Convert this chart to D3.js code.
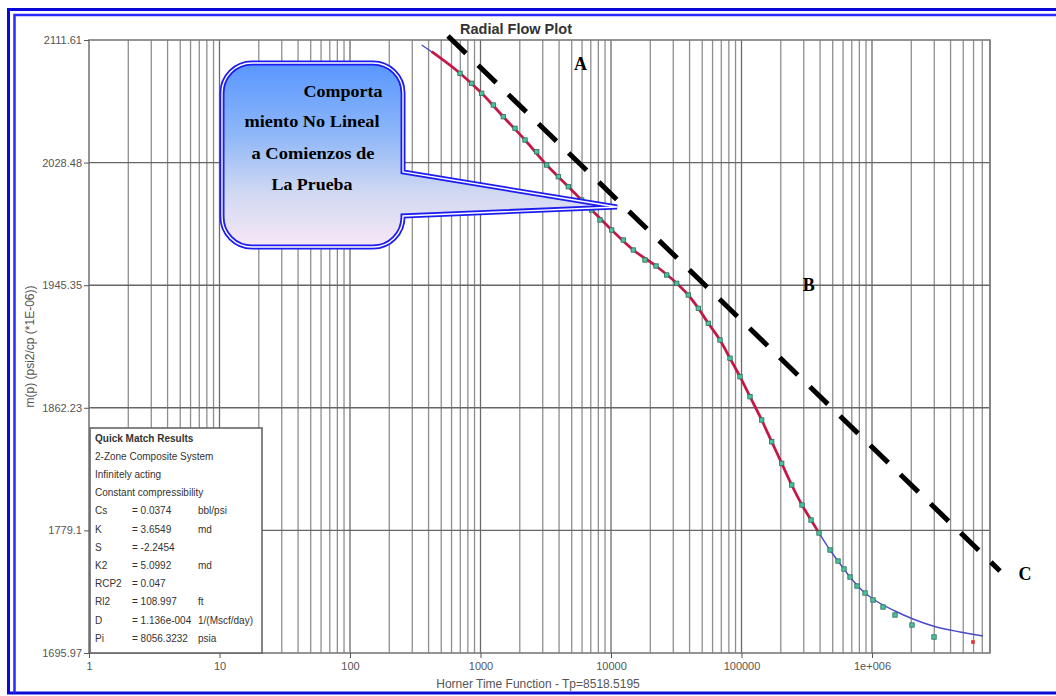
<!DOCTYPE html>
<html>
<head>
<meta charset="utf-8">
<script src="https://cdn.jsdelivr.net/npm/d3@7"></script>
<style>
  html, body { margin: 0; padding: 0; background: #fff; }
  svg { display: block; }
</style>
</head>
<body>
<div id="chart"></div>
<script>
// ---------- data ----------
const xTickValues = [1, 10, 100, 1000, 10000, 100000, 1000000];
const xTickLabels = ["1", "10", "100", "1000", "10000", "100000", "1e+006"];
const yTickValues = [1695.97, 1779.10, 1862.23, 1945.35, 2028.48, 2111.61];
const yTickLabels = ["1695.97", "1779.1", "1862.23", "1945.35", "2028.48", "2111.61"];
const xDomain = [1, 8.02e6];
const yDomain = [1695.97, 2111.61];

// measured data (markers)
const dataTime = [696.5, 856.1, 1021.4, 1253.5, 1495.0, 1838.5, 2192.9, 2696.6, 3216.7, 3947.3,
  4708.6, 5964.0, 7114.4, 8236.6, 10124, 12426, 14825, 18220, 22125, 26723,
  31875, 39114, 46667, 55671, 68420, 81650, 97390, 116180, 142830, 170390,
  203240, 242470, 290830, 340980, 392650, 476710, 548920, 610150, 678270, 767720,
  884170, 1017900, 1214300, 1500700, 2025100, 2986900];
const dataMp = [2089.03, 2082.25, 2075.47, 2067.54, 2059.60, 2051.74, 2043.81, 2035.87, 2026.85, 2018.92,
  2012.14, 2003.12, 1996.34, 1989.56, 1982.78, 1976.00, 1969.22, 1962.44, 1958.37, 1952.27,
  1946.64, 1938.71, 1929.69, 1919.52, 1908.20, 1895.79, 1883.31, 1869.75, 1853.95, 1839.24,
  1824.59, 1809.88, 1796.32, 1786.15, 1777.34, 1765.81, 1758.35, 1752.93, 1747.50, 1741.40,
  1736.65, 1731.91, 1727.16, 1721.74, 1714.96, 1706.82];

// match line (red)
const matchTime = [422.7, 696.5, 1021.4, 1495.0, 2192.9, 3216.7, 4708.6, 7114.4, 10124, 14825,
  22125, 31875, 39114, 46667, 55671, 68420, 81650, 97390, 116180, 142830,
  170390, 203240, 242470, 290830, 340980, 392650];
const matchMp = [2103.68, 2089.03, 2075.47, 2059.60, 2043.81, 2026.85, 2012.14, 1996.34, 1982.78, 1969.22,
  1958.37, 1946.64, 1938.71, 1929.69, 1919.52, 1908.20, 1895.79, 1883.31, 1869.75, 1853.95,
  1839.24, 1824.59, 1809.88, 1796.32, 1786.15, 1777.34];

// model (blue)
const modelTime = [354.4, 696.5, 1021.4, 1495.0, 2192.9, 3216.7, 4708.6, 7114.4, 10124, 14825,
  22125, 31875, 39114, 46667, 55671, 68420, 81650, 97390, 116180, 142830,
  170390, 203240, 242470, 290830, 340980, 392650, 476710, 548920, 678270, 884170,
  1017900, 1500700, 2061200, 2934000, 4724300, 7089300];
const modelMp = [2108.22, 2089.03, 2075.47, 2059.60, 2043.81, 2026.85, 2012.14, 1996.34, 1982.78, 1969.22,
  1958.37, 1946.64, 1938.71, 1929.69, 1919.52, 1908.20, 1895.79, 1883.31, 1869.75, 1853.95,
  1839.24, 1824.59, 1809.88, 1796.32, 1786.15, 1777.34, 1765.81, 1758.35, 1747.50, 1736.65,
  1732.59, 1724.45, 1719.03, 1714.28, 1710.22, 1707.50];

// last (red) point
const lastTime = [5941000];
const lastMp = [1703.43];

// straight-line (semilog) dashed guide
const guideTime = [563.6, 9568000];
const guideMp = [2114.32, 1751.58];

// region labels
const regionNames = ["A", "B", "C"];
const regionTime = [5850, 327000, 14870000];
const regionMp = [2095.4, 1945.4, 1749.5];

// callout anchor
const calloutTime = 11117;
const calloutMp = 1998.38;
const calloutLines = ["Comporta", "miento No Lineal", "a Comienzos de", "La Prueba"];

// legend
const legendTitle = "Quick Match Results";
const legendNotes = ["2-Zone Composite System", "Infinitely acting", "Constant compressibility"];
const paramNames = ["Cs", "K", "S", "K2", "RCP2", "Rl2", "D", "Pi"];
const paramValues = ["= 0.0374", "= 3.6549", "= -2.2454", "= 5.0992", "= 0.047", "= 108.997", "= 1.136e-004", "= 8056.3232"];
const paramUnits = ["bbl/psi", "md", "", "md", "", "ft", "1/(Mscf/day)", "psia"];

const chartTitle = "Radial Flow Plot";
const xTitle = "Horner Time Function - Tp=8518.5195";
const yTitle = "m(p) (psi2/cp (*1E-06))";

// ---------- drawing ----------
const W = 1056, H = 696;
const plot = { left: 89, right: 990, top: 40, bottom: 653 };
const sans = "'Liberation Sans', Arial, sans-serif";
const serif = "'Liberation Serif', 'Times New Roman', serif";

const svg = d3.select("#chart").append("svg")
  .attr("width", W).attr("height", H)
  .style("background", "#fff");

const x = d3.scaleLog().domain(xDomain).range([plot.left, plot.right]);
const y = d3.scaleLinear().domain(yDomain).range([plot.bottom, plot.top]);

// outer blue frame
const frame = svg.append("g");
frame.append("path")
  .attr("d", `M${W + 5},9.5 H8.5 V693 H${W + 5}`)
  .attr("fill", "none").attr("stroke", "#0a0ad8").attr("stroke-width", 3);
frame.append("path")
  .attr("d", `M${W + 5},15 H14.5 V693`)
  .attr("fill", "none").attr("stroke", "#2a2aff").attr("stroke-width", 2.5);

// gridlines
const grid = svg.append("g");
const gridTicks = x.ticks().filter(d => d > xDomain[0] && d < xDomain[1] * 0.999);
grid.selectAll("line.vg").data(gridTicks).join("line")
  .attr("class", "vg")
  .attr("x1", d => x(d)).attr("x2", d => x(d))
  .attr("y1", plot.top).attr("y2", plot.bottom)
  .attr("stroke", d => xTickValues.includes(d) ? "#6a6a6a" : "#8e8e8e")
  .attr("stroke-width", 1.3);
grid.selectAll("line.hg").data(yTickValues.slice(1, -1)).join("line")
  .attr("class", "hg")
  .attr("x1", plot.left).attr("x2", plot.right)
  .attr("y1", d => y(d)).attr("y2", d => y(d))
  .attr("stroke", "#666").attr("stroke-width", 1.4);

// plot border
svg.append("rect")
  .attr("x", plot.left).attr("y", plot.top)
  .attr("width", plot.right - plot.left).attr("height", plot.bottom - plot.top)
  .attr("fill", "none").attr("stroke", "#7a7a7a").attr("stroke-width", 1.6);

// axes
const xAxis = svg.append("g")
  .attr("transform", `translate(0,${plot.bottom})`)
  .call(d3.axisBottom(x).tickValues(xTickValues).tickFormat((d, i) => xTickLabels[i]).tickSize(5).tickPadding(4));
xAxis.select(".domain").remove();
xAxis.selectAll("line").attr("stroke", "#555");
xAxis.selectAll("text").attr("font-family", sans).attr("font-size", 11).attr("fill", "#555");

const yAxis = svg.append("g")
  .attr("transform", `translate(${plot.left},0)`)
  .call(d3.axisLeft(y).tickValues(yTickValues).tickFormat((d, i) => yTickLabels[i]).tickSize(5).tickPadding(2));
yAxis.select(".domain").remove();
yAxis.selectAll("line").attr("stroke", "#555");
yAxis.selectAll("text").attr("font-family", sans).attr("font-size", 11).attr("fill", "#555");

// titles
svg.append("text").text(chartTitle)
  .attr("x", 516).attr("y", 34).attr("text-anchor", "middle")
  .attr("font-family", sans).attr("font-size", 14.5).attr("font-weight", "bold").attr("fill", "#333");
svg.append("text").text(xTitle)
  .attr("x", 538).attr("y", 688).attr("text-anchor", "middle")
  .attr("font-family", sans).attr("font-size", 12).attr("fill", "#555");
svg.append("text").text(yTitle)
  .attr("transform", `translate(34,${(plot.top + plot.bottom) / 2}) rotate(-90)`)
  .attr("text-anchor", "middle")
  .attr("font-family", sans).attr("font-size", 12).attr("fill", "#555");

// model line (blue)
const lineGen = d3.line().x(d => x(d[0])).y(d => y(d[1])).curve(d3.curveMonotoneX);
svg.append("path")
  .datum(modelTime.map((t, i) => [t, modelMp[i]]))
  .attr("d", lineGen)
  .attr("fill", "none").attr("stroke", "#4a4ac8").attr("stroke-width", 1.4);

// match line (red)
svg.append("path")
  .datum(matchTime.map((t, i) => [t, matchMp[i]]))
  .attr("d", lineGen)
  .attr("fill", "none").attr("stroke", "#c8103c").attr("stroke-width", 2.8).attr("stroke-opacity", 0.92);

// data markers
const ms = 4.4;
svg.append("g").selectAll("rect").data(dataTime.map((t, i) => [t, dataMp[i]])).join("rect")
  .attr("x", d => x(d[0]) - ms / 2).attr("y", d => y(d[1]) - ms / 2)
  .attr("width", ms).attr("height", ms)
  .attr("fill", "#4cc0a0").attr("stroke", "#2a6e58").attr("stroke-width", 0.8);

svg.append("g").selectAll("rect").data(lastTime.map((t, i) => [t, lastMp[i]])).join("rect")
  .attr("x", d => x(d[0]) - 1.8).attr("y", d => y(d[1]) - 1.8)
  .attr("width", 3.6).attr("height", 3.6)
  .attr("fill", "#e03030");

// dashed guide line
svg.append("path")
  .datum(guideTime.map((t, i) => [t, guideMp[i]]))
  .attr("d", d3.line().x(d => x(d[0])).y(d => y(d[1])))
  .attr("fill", "none").attr("stroke", "#000").attr("stroke-width", 5)
  .attr("stroke-dasharray", "25,17");

// region labels
svg.append("g").selectAll("text").data(regionNames).join("text")
  .text(d => d)
  .attr("x", (d, i) => x(regionTime[i])).attr("y", (d, i) => y(regionMp[i]) + 6)
  .attr("text-anchor", "middle")
  .attr("font-family", serif).attr("font-weight", "bold").attr("font-size", 18).attr("fill", "#000");

// callout
const box = { x0: 222, y0: 63, x1: 403, y1: 247, r: 30, p0: 172, p1: 216 };
const tipX = x(calloutTime), tipY = y(calloutMp);
const defs = svg.append("defs");
const grad = defs.append("linearGradient").attr("id", "cg").attr("x1", 0).attr("y1", 0).attr("x2", 0).attr("y2", 1);
grad.append("stop").attr("offset", "0%").attr("stop-color", "#5896ff");
grad.append("stop").attr("offset", "40%").attr("stop-color", "#90b8f8");
grad.append("stop").attr("offset", "70%").attr("stop-color", "#cfd8f2");
grad.append("stop").attr("offset", "100%").attr("stop-color", "#f8e8f6");
const cp = d3.path();
cp.moveTo(box.x0 + box.r, box.y0);
cp.lineTo(box.x1 - box.r, box.y0);
cp.arcTo(box.x1, box.y0, box.x1, box.y0 + box.r, box.r);
cp.lineTo(box.x1, box.p0);
cp.lineTo(tipX, tipY);
cp.lineTo(box.x1, box.p1);
cp.lineTo(box.x1, box.y1 - box.r);
cp.arcTo(box.x1, box.y1, box.x1 - box.r, box.y1, box.r);
cp.lineTo(box.x0 + box.r, box.y1);
cp.arcTo(box.x0, box.y1, box.x0, box.y1 - box.r, box.r);
cp.lineTo(box.x0, box.y0 + box.r);
cp.arcTo(box.x0, box.y0, box.x0 + box.r, box.y0, box.r);
cp.closePath();
svg.append("path").attr("d", cp.toString())
  .attr("fill", "url(#cg)").attr("stroke", "#1c1cf0").attr("stroke-width", 5).attr("stroke-linejoin", "miter");
svg.append("path").attr("d", cp.toString())
  .attr("fill", "none").attr("stroke", "#fff").attr("stroke-width", 1.4).attr("stroke-linejoin", "miter");

const calloutCx = [343, 312, 313, 312];
const calloutY = [97, 127, 159, 190];
const calloutW = [79, 135, 123, 81];
svg.append("g").selectAll("text").data(calloutLines).join("text")
  .text(d => d)
  .attr("x", (d, i) => calloutCx[i]).attr("y", (d, i) => calloutY[i])
  .attr("text-anchor", "middle")
  .attr("textLength", (d, i) => calloutW[i]).attr("lengthAdjust", "spacingAndGlyphs")
  .attr("font-family", serif).attr("font-weight", "bold").attr("font-size", 17.5).attr("fill", "#000");

// legend box
const lg = svg.append("g");
lg.append("rect").attr("x", 90).attr("y", 428).attr("width", 172).attr("height", 225)
  .attr("fill", "#fff").attr("stroke", "#666").attr("stroke-width", 1.6);
const lineY = i => 441.5 + i * 18.2;
lg.append("text").text(legendTitle).attr("x", 95).attr("y", lineY(0))
  .attr("font-family", sans).attr("font-size", 10).attr("font-weight", "bold").attr("fill", "#333");
lg.selectAll("text.note").data(legendNotes).join("text").attr("class", "note")
  .text(d => d).attr("x", 95).attr("y", (d, i) => lineY(i + 1))
  .attr("font-family", sans).attr("font-size", 10).attr("fill", "#333");
lg.selectAll("text.pn").data(paramNames).join("text").attr("class", "pn")
  .text(d => d).attr("x", 95).attr("y", (d, i) => lineY(i + 4))
  .attr("font-family", sans).attr("font-size", 10).attr("fill", "#333");
lg.selectAll("text.pv").data(paramValues).join("text").attr("class", "pv")
  .text(d => d).attr("x", 132).attr("y", (d, i) => lineY(i + 4))
  .attr("font-family", sans).attr("font-size", 10).attr("fill", "#333");
lg.selectAll("text.pu").data(paramUnits).join("text").attr("class", "pu")
  .text(d => d).attr("x", 198).attr("y", (d, i) => lineY(i + 4))
  .attr("font-family", sans).attr("font-size", 10).attr("fill", "#333");
</script>
</body>
</html>
